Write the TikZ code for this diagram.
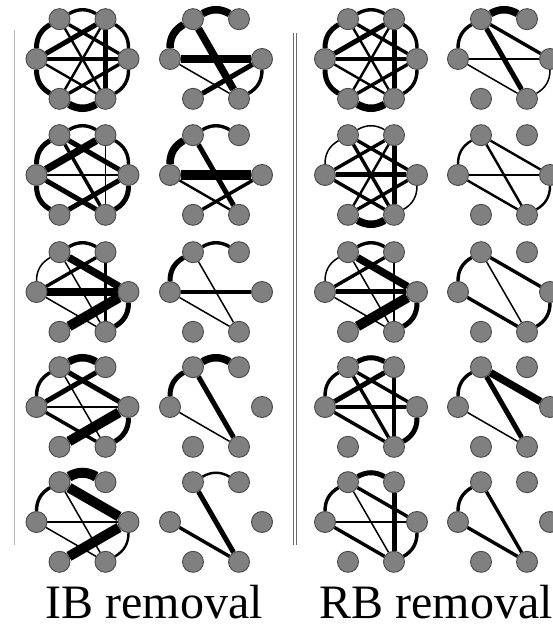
\documentclass[tikz,border=0pt]{standalone}
\usepackage{fontspec}
\setmainfont{Liberation Serif}
\usetikzlibrary{backgrounds,calc}
\definecolor{ndfill}{HTML}{808080}
\definecolor{ndline}{HTML}{484848}
\definecolor{seplight}{HTML}{B8B8B8}
\definecolor{sepdark}{HTML}{6A6A6A}
\tikzset{
  nd/.style={circle, fill=ndfill, draw=ndline, line width=0.9pt, minimum size=21pt, inner sep=0pt},
  e1/.style={line width=1.5pt},
  e2/.style={line width=2.4pt},
  e3/.style={line width=3.4pt},
  e4/.style={line width=5pt},
  e5/.style={line width=7.5pt},
  e6/.style={line width=10pt},
  lab/.style={font=\fontsize{48}{48}\selectfont, anchor=base, inner sep=0pt}
}
\newcommand\mknet[2]{\foreach \n/\a in {A/120,B/60,C/180,D/0,E/240,F/300}{\node[nd] (#1\n) at ($(#2)+(\a:46)$) {};}}
\newcommand\netarcs[2]{\begin{pgfonlayer}{background}\foreach \s/\u/\v in {#2}{\draw[\s] (#1\u) to[bend left=30] (#1\v);}\end{pgfonlayer}}
\newcommand\netlines[2]{\begin{pgfonlayer}{background}\foreach \s/\u/\v in {#2}{\draw[\s] (#1\u) -- (#1\v);}\end{pgfonlayer}}
\begin{document}
\begin{tikzpicture}[x=1pt,y=1pt]
\useasboundingbox (0,0) rectangle (553,627);
% separators
\draw[seplight, line width=0.9pt] (14,597) -- (14,82);
\draw[sepdark, line width=0.9pt] (293.3,594) -- (293.3,82);
\draw[sepdark, line width=0.9pt] (296.5,594) -- (296.5,82);
% row 1
\mknet{g11}{82.5,568}
\netarcs{g11}{e3/A/B,e3/B/D,e3/D/F,e5/F/E,e4/E/C,e4/C/A}
\netlines{g11}{e4/B/F,e3/C/D,e4/C/B,e3/A/D,e2/A/F,e2/C/F,e3/E/D,e2/E/B}
\mknet{g12}{216,568}
\netarcs{g12}{e5/A/B,e5/C/A,e3/D/F}
\netlines{g12}{e5/C/D,e5/A/F,e4/E/D,e1/C/F}
\mknet{g13}{371,568}
\netarcs{g13}{e3/A/B,e3/B/D,e3/D/F,e5/F/E,e4/E/C,e4/C/A}
\netlines{g13}{e4/B/F,e3/C/D,e4/C/B,e3/A/D,e2/A/F,e2/C/F,e3/E/D,e2/E/B}
\mknet{g14}{504,568}
\netarcs{g14}{e5/A/B,e3/C/A,e1/D/F}
\netlines{g14}{e3/A/D,e4/A/F,e1/C/D,e1/C/F}
% row 2
\mknet{g21}{82.5,452}
\netarcs{g21}{e3/A/B,e3/B/D,e4/D/F,e4/E/C,e4/C/A}
\netlines{g21}{e5/C/B,e4/A/D,e3/A/F,e1/B/F,e2/C/D,e4/C/F,e4/E/D}
\mknet{g22}{216,452}
\netarcs{g22}{e3/A/B,e5/C/A}
\netlines{g22}{e6/C/D,e4/A/F,e2/C/F,e3/E/D}
\mknet{g23}{371,452}
\netarcs{g23}{e1/A/B,e1/C/A,e1/D/F,e5/F/E}
\netlines{g23}{e4/C/D,e3/C/B,e3/A/D,e3/A/F,e4/B/F,e3/C/F,e3/E/D,e2/E/B}
\mknet{g24}{504,452}
\netarcs{g24}{e2/C/A,e2/D/F}
\netlines{g24}{e2/A/D,e2/A/F,e2/C/D,e2/C/F}
% row 3
\mknet{g31}{82.5,335}
\netarcs{g31}{e3/A/B,e1/C/A,e4/D/F}
\netlines{g31}{e5/A/D,e3/C/B,e5/C/D,e1/A/F,e2/B/F,e1/C/F,e6/E/D}
\mknet{g32}{216,335}
\netarcs{g32}{e3/A/B,e4/C/A}
\netlines{g32}{e3/C/D,e1/A/F,e1/C/F}
\mknet{g33}{371,335}
\netarcs{g33}{e3/A/B,e1/C/A,e4/D/F}
\netlines{g33}{e5/A/D,e3/C/B,e4/C/D,e1/A/F,e2/B/F,e1/C/F,e6/E/D}
\mknet{g34}{504,335}
\netarcs{g34}{e3/C/A,e3/D/F}
\netlines{g34}{e3/A/D,e1/A/F,e3/C/F}
% row 4
\mknet{g41}{82.5,220}
\netarcs{g41}{e5/A/B,e3/C/A,e4/D/F}
\netlines{g41}{e4/A/D,e4/C/B,e2/C/D,e1/A/F,e3/C/F,e6/E/D}
\mknet{g42}{216,220}
\netarcs{g42}{e5/A/B,e4/C/A}
\netlines{g42}{e4/A/F,e1/C/F}
\mknet{g43}{371,220}
\netarcs{g43}{e4/A/B,e3/C/A,e4/D/F}
\netlines{g43}{e3/A/D,e4/C/B,e3/C/D,e3/A/F,e3/B/F,e3/C/F}
\mknet{g44}{504,220}
\netarcs{g44}{e3/C/A}
\netlines{g44}{e5/A/D,e4/A/F,e1/C/F}
% row 5
\mknet{g51}{82.5,105}
\netarcs{g51}{e6/A/B,e3/C/A,e2/D/F}
\netlines{g51}{e6/A/D,e1/A/F,e1/C/D,e1/C/F,e6/E/D}
\mknet{g52}{216,105}
\netarcs{g52}{e2/A/B}
\netlines{g52}{e4/A/F,e3/C/F}
\mknet{g53}{371,105}
\netarcs{g53}{e4/A/B,e3/C/A,e3/D/F}
\netlines{g53}{e3/A/D,e1/A/F,e1/C/D,e3/C/F,e4/B/F}
\mknet{g54}{504,105}
\netarcs{g54}{e3/C/A}
\netlines{g54}{e3/A/F,e3/C/F}
% labels
\node[lab] (ib) at (154,9) {IB removal};
\node[lab] (rb) at (436,9) {RB removal};
\end{tikzpicture}
\end{document}
